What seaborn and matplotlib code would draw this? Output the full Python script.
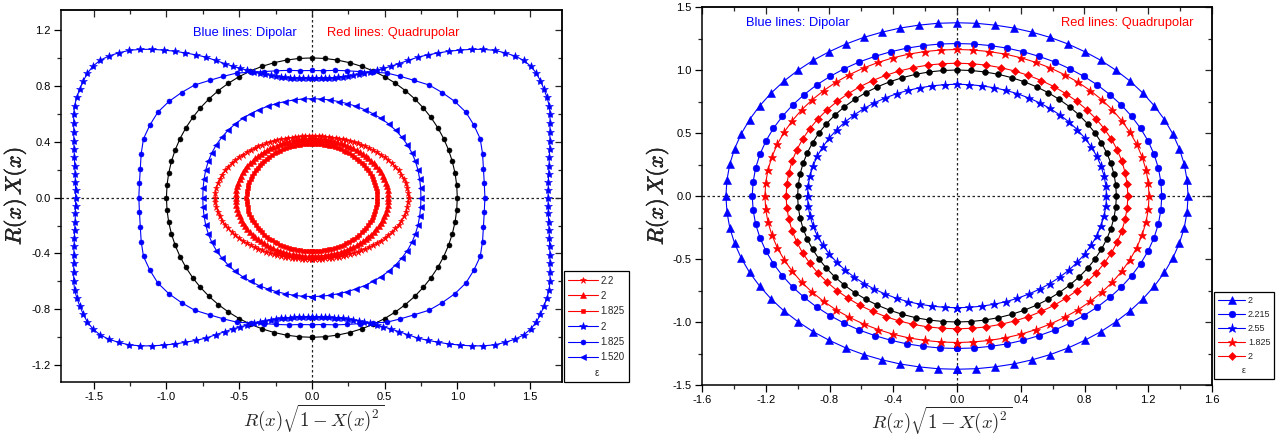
import numpy as np
import matplotlib
matplotlib.use("Agg")
import matplotlib.pyplot as plt
import matplotlib.patheffects as pe
from matplotlib.ticker import MultipleLocator, FormatStrFormatter
import seaborn as sns

# ---------------------------------------------------------------------------
# Sampling angles (degrees) over one quadrant; X(x) = sin(phi).
# Curves are symmetric about both axes, so one quadrant of R(x) is stored.
# ---------------------------------------------------------------------------
PHI_2 = list(range(0, 91, 2))
PHI_3 = list(range(0, 91, 3))
PHI_5 = list(range(0, 91, 5))

# ---- left panel -----------------------------------------------------------
L_BLACK_R = [1.000, 1.000, 1.000, 1.000, 1.000, 1.000, 1.000, 1.000, 1.000, 1.000,
             1.000, 1.000, 1.000, 1.000, 1.000, 1.000, 1.000, 1.000, 1.000]

# quadrupolar (red)
L_RED_22_R = [0.665, 0.664, 0.660, 0.655, 0.647, 0.638, 0.628, 0.616, 0.604, 0.591,
              0.579, 0.566, 0.554, 0.541, 0.530, 0.519, 0.509, 0.499, 0.490, 0.482,
              0.475, 0.468, 0.462, 0.457, 0.452, 0.449, 0.445, 0.443, 0.441, 0.440,
              0.440]
L_RED_2_R = [0.525, 0.525, 0.523, 0.521, 0.519, 0.515, 0.511, 0.507, 0.502, 0.497,
             0.492, 0.486, 0.480, 0.475, 0.469, 0.464, 0.459, 0.454, 0.449, 0.444,
             0.440, 0.437, 0.433, 0.430, 0.427, 0.425, 0.423, 0.422, 0.421, 0.420,
             0.420]
L_RED_1825_R = [0.450, 0.450, 0.449, 0.448, 0.447, 0.445, 0.442, 0.440, 0.437, 0.434,
                0.431, 0.427, 0.424, 0.421, 0.417, 0.414, 0.410, 0.407, 0.404, 0.401,
                0.399, 0.396, 0.394, 0.392, 0.390, 0.389, 0.387, 0.386, 0.386, 0.385,
                0.385]

# dipolar (blue)
L_BLUE_2_R = [1.624, 1.626, 1.630, 1.637, 1.647, 1.658, 1.672, 1.687, 1.703, 1.722,
              1.743, 1.760, 1.769, 1.775, 1.780, 1.782, 1.775, 1.757, 1.725, 1.684,
              1.640, 1.586, 1.528, 1.468, 1.410, 1.352, 1.297, 1.244, 1.184, 1.132,
              1.085, 1.048, 1.014, 0.984, 0.960, 0.938, 0.920, 0.905, 0.891, 0.880,
              0.872, 0.865, 0.860, 0.857, 0.855, 0.854]
L_BLUE_1825_R = [1.190, 1.190, 1.198, 1.215, 1.232, 1.229, 1.223, 1.200, 1.170, 1.140,
                 1.095, 1.060, 1.030, 0.990, 0.960, 0.940, 0.925, 0.912, 0.910]
L_BLUE_1520_R = [0.750, 0.751, 0.753, 0.756, 0.758, 0.759, 0.758, 0.755, 0.751, 0.746,
                 0.740, 0.733, 0.727, 0.721, 0.716, 0.712, 0.710, 0.709, 0.708]

LEFT_LABELS = ["2.2", "2", "1.825", "2", "1.825", "1.520"]

# ---- right panel ----------------------------------------------------------
R_BLACK_R = [1.000, 1.000, 1.000, 1.000, 1.000, 1.000, 1.000, 1.000, 1.000, 1.000,
             1.000, 1.000, 1.000, 1.000, 1.000, 1.000, 1.000, 1.000, 1.000]
R_BLUE_2_R = [1.450, 1.449, 1.448, 1.445, 1.441, 1.436, 1.430, 1.424, 1.418, 1.411,
              1.405, 1.398, 1.393, 1.388, 1.383, 1.380, 1.377, 1.376, 1.375]
R_BLUE_2215_R = [1.285, 1.284, 1.283, 1.280, 1.276, 1.271, 1.265, 1.259, 1.252, 1.246,
                 1.239, 1.233, 1.228, 1.222, 1.218, 1.215, 1.212, 1.211, 1.210]
R_BLUE_255_R = [0.938, 0.938, 0.936, 0.934, 0.932, 0.928, 0.924, 0.920, 0.916, 0.911,
                0.907, 0.903, 0.899, 0.896, 0.893, 0.890, 0.888, 0.887, 0.887]
R_RED_1825_R = [1.205, 1.205, 1.204, 1.202, 1.200, 1.197, 1.194, 1.191, 1.187, 1.183,
                1.180, 1.176, 1.173, 1.170, 1.168, 1.166, 1.164, 1.163, 1.163]
R_RED_2_R = [1.072, 1.072, 1.071, 1.071, 1.070, 1.069, 1.067, 1.066, 1.064, 1.063,
             1.061, 1.060, 1.058, 1.057, 1.056, 1.055, 1.055, 1.054, 1.054]

RIGHT_LABELS = ["2", "2.215", "2.55", "1.825", "2"]

# axis ticks
L_XTICKS = [-1.5, -1.0, -0.5, 0.0, 0.5, 1.0, 1.5]
L_YTICKS = [-1.2, -0.8, -0.4, 0.0, 0.4, 0.8, 1.2]
R_XTICKS = [-1.6, -1.2, -0.8, -0.4, 0.0, 0.4, 0.8, 1.2, 1.6]
R_YTICKS = [-1.5, -1.0, -0.5, 0.0, 0.5, 1.0, 1.5]

BLUE = "#0000ff"
RED = "#ff0000"
BLACK = "#000000"

sns.set_style("ticks")
plt.rcParams["font.family"] = ["Liberation Sans", "DejaVu Sans"]
plt.rcParams["mathtext.fontset"] = "cm"
plt.rcParams["axes.unicode_minus"] = False


def closed_curve(phi_deg, radius):
    """Closed curve (R*sqrt(1-X^2), R*X) from one quadrant of R, X=sin(phi)."""
    X = np.sin(np.radians(np.asarray(phi_deg, dtype=float)))
    R = np.asarray(radius, dtype=float)
    Xh = np.concatenate([-X[::-1], X[1:]])
    Rh = np.concatenate([R[::-1], R[1:]])
    xr = Rh * np.sqrt(np.clip(1.0 - Xh ** 2, 0, None))
    yr = Rh * Xh
    xs = np.concatenate([xr, -xr[::-1][1:]])
    ys = np.concatenate([yr, yr[::-1][1:]])
    return xs, ys


def draw(ax, phi, radius, color, marker, ms, label=None, lw=0.8):
    xs, ys = closed_curve(phi, radius)
    sns.lineplot(x=xs, y=ys, sort=False, estimator=None, ax=ax, legend=False,
                 color=color, marker=marker, markersize=ms,
                 markeredgecolor=color, markeredgewidth=0.4, linewidth=lw,
                 label=label)
    return ax.lines[-1]


def style_axes(ax, xticks, yticks, xminor, yminor, xlim, ylim):
    ax.set_xlim(*xlim)
    ax.set_ylim(*ylim)
    ax.set_xticks(xticks)
    ax.set_yticks(yticks)
    ax.xaxis.set_minor_locator(MultipleLocator(xminor))
    ax.yaxis.set_minor_locator(MultipleLocator(yminor))
    ax.xaxis.set_major_formatter(FormatStrFormatter("%.1f"))
    ax.yaxis.set_major_formatter(FormatStrFormatter("%.1f"))
    ax.tick_params(which="major", direction="out", length=5, width=0.9,
                   labelsize=8, pad=2.5, colors="black")
    ax.tick_params(which="minor", direction="out", length=3, width=0.9)
    for s in ax.spines.values():
        s.set_visible(True)
        s.set_linewidth(1.1)
        s.set_color("black")
    # inward ticks on the top and right edges
    top = ax.secondary_xaxis("top")
    top.set_xticks(xticks)
    top.xaxis.set_minor_locator(MultipleLocator(xminor))
    top.tick_params(which="major", direction="in", length=5, width=0.9, labeltop=False)
    top.tick_params(which="minor", direction="in", length=3, width=0.9)
    top.spines["top"].set_linewidth(1.1)
    right = ax.secondary_yaxis("right")
    right.set_yticks(yticks)
    right.yaxis.set_minor_locator(MultipleLocator(yminor))
    right.tick_params(which="major", direction="in", length=5, width=0.9, labelright=False)
    right.tick_params(which="minor", direction="in", length=3, width=0.9)
    right.spines["right"].set_linewidth(1.1)
    ax.axhline(0, color="#222222", lw=0.9, ls=(0, (2, 2)), zorder=1)
    ax.axvline(0, color="#222222", lw=0.9, ls=(0, (2, 2)), zorder=1)


def set_labels(ax, xpos, ypos):
    ax.set_xlabel(r"$R(x)\sqrt{1-X(x)^2}$", fontsize=13.5)
    yl = ax.set_ylabel(r"$R(x)\,X(x)$", fontsize=16)
    yl.set_path_effects([pe.withStroke(linewidth=0.35, foreground="black")])
    ax.xaxis.set_label_coords(*xpos)
    ax.xaxis.label.set_va("center")
    ax.yaxis.set_label_coords(*ypos)
    ax.yaxis.label.set_va("center")


def add_legend(fig, handles, labels, anchor, fs):
    leg = fig.legend(handles=handles, labels=labels, loc="lower left",
                     bbox_to_anchor=anchor, bbox_transform=fig.transFigure,
                     title="\u03b5", fontsize=fs, title_fontsize=fs,
                     frameon=True, fancybox=False, shadow=False, framealpha=1,
                     edgecolor="black", handlelength=3.0, handletextpad=0.3,
                     borderpad=0.45, labelspacing=0.55, numpoints=1,
                     borderaxespad=0)
    leg.get_frame().set_linewidth(0.9)
    # epsilon caption sits beneath the entries
    box = leg._legend_box
    box._children = [box._children[1], box._children[0]]
    return leg


W, H = 1279, 437
fig = plt.figure(figsize=(W / 100, H / 100), dpi=100)

# ---------------------------- left panel ----------------------------------
ax1 = fig.add_axes([61 / W, (H - 382) / H, 501 / W, 372 / H])
style_axes(ax1, L_XTICKS, L_YTICKS, 0.25, 0.2, (-1.725, 1.72), (-1.32, 1.343))

draw(ax1, PHI_5, L_BLACK_R, BLACK, "o", 3.6)
hb1825 = draw(ax1, PHI_5, L_BLUE_1825_R, BLUE, "o", 3.6, LEFT_LABELS[4])
hb1520 = draw(ax1, PHI_5, L_BLUE_1520_R, BLUE, "<", 4.0, LEFT_LABELS[5])
hb2 = draw(ax1, PHI_2, L_BLUE_2_R, BLUE, "*", 6.0, LEFT_LABELS[3])
hr22 = draw(ax1, PHI_3, L_RED_22_R, RED, "*", 4.5, LEFT_LABELS[0])
hr2 = draw(ax1, PHI_3, L_RED_2_R, RED, "^", 3.8, LEFT_LABELS[1])
hr1825 = draw(ax1, PHI_3, L_RED_1825_R, RED, "s", 3.4, LEFT_LABELS[2])

ax1.text(-0.818, 1.178, "Blue lines: Dipolar", color=BLUE, fontsize=9.3,
         ha="left", va="center")
ax1.text(0.103, 1.178, "Red lines: Quadrupolar", color=RED, fontsize=9.3,
         ha="left", va="center")
set_labels(ax1, (0.505, -0.098), (-0.092, 0.5))

add_legend(fig, [hr22, hr2, hr1825, hb2, hb1825, hb1520], LEFT_LABELS,
           (564 / W, (H - 382) / H), 7)

# ---------------------------- right panel ---------------------------------
ax2 = fig.add_axes([702 / W, (H - 385) / H, 510 / W, 378 / H])
style_axes(ax2, R_XTICKS, R_YTICKS, 0.2, 0.25, (-1.6, 1.6), (-1.5, 1.5))

rb2 = draw(ax2, PHI_5, R_BLUE_2_R, BLUE, "^", 5.2, RIGHT_LABELS[0])
rb2215 = draw(ax2, PHI_5, R_BLUE_2215_R, BLUE, "o", 4.8, RIGHT_LABELS[1])
rr1825 = draw(ax2, PHI_5, R_RED_1825_R, RED, "*", 6.5, RIGHT_LABELS[3])
rr2 = draw(ax2, PHI_5, R_RED_2_R, RED, "D", 4.0, RIGHT_LABELS[4])
draw(ax2, PHI_5, R_BLACK_R, BLACK, "o", 4.2)
rb255 = draw(ax2, PHI_5, R_BLUE_255_R, BLUE, "*", 6.5, RIGHT_LABELS[2])

ax2.text(-1.327, 1.373, "Blue lines: Dipolar", color=BLUE, fontsize=9.3,
         ha="left", va="center")
ax2.text(1.484, 1.373, "Red lines: Quadrupolar", color=RED, fontsize=9.3,
         ha="right", va="center")
set_labels(ax2, (0.469, -0.094), (-0.088, 0.5))

add_legend(fig, [rb2, rb2215, rb255, rr1825, rr2], RIGHT_LABELS,
           (1214 / W, (H - 379) / H), 6.5)

fig.savefig("out.png", dpi=100)
